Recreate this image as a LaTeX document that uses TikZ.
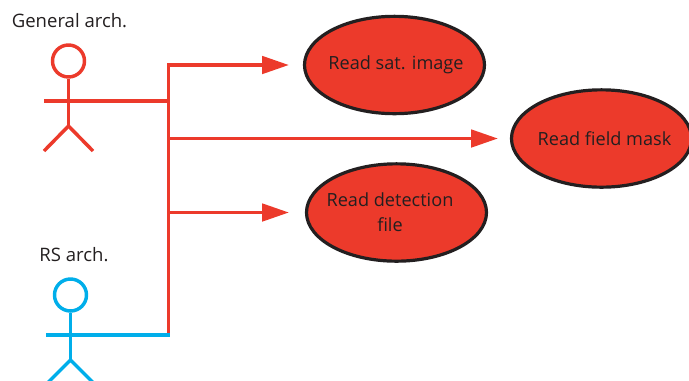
\documentclass[tikz,border=0pt]{standalone}
\usepackage{fontspec}
\setmainfont{Open Sans}
\usetikzlibrary{arrows.meta,shapes.geometric}
\definecolor{archred}{HTML}{EC3A2B}
\definecolor{archblue}{HTML}{00AEEA}
\definecolor{inkdark}{HTML}{231F20}
\tikzset{
    usecase/.style={ellipse, draw=inkdark, fill=archred, line width=2.4pt, inner sep=0pt,
        minimum width=135pt, minimum height=73pt},
    casetext/.style={text=inkdark, font=\fontsize{13.6}{18.5}\selectfont, align=center, inner sep=0pt},
    actortext/.style={text=inkdark, font=\fontsize{13.9}{15}\selectfont, inner sep=0pt},
    flow/.style={draw=archred, line width=2.6pt, -{Triangle[length=20pt, width=13pt]}, shorten >=10.5pt},
    redline/.style={draw=archred, line width=2.6pt},
    blueline/.style={draw=archblue, line width=2.6pt},
    head/.style={circle, line width=2.6pt, fill=white, inner sep=0pt, minimum size=24pt}
}
\begin{document}
\begin{tikzpicture}[x=0.75pt, y=-0.75pt]
    \clip (0,0) rectangle (689,380);
    % use cases
    \node[usecase] (sat) at (394.5, 65) {};
    \node[usecase] (field) at (601.5, 138.5) {};
    \node[usecase] (detection) at (396.5, 212.5) {};
    \node[casetext] (sattext) at (396, 64.5) {Read sat. image};
    \node[casetext] (fieldtext) at (604.5, 138.5) {Read field mask};
    \node[casetext] (detectiontext) at (390, 212) {Read detection\\file};
    % actors
    \node[actortext] (general) at (69.5, 21) {General arch.};
    \node[actortext] (rs) at (74, 255) {RS arch.};
    \node[head, draw=archred] (generalhead) at (68.5, 61) {};
    \node[head, draw=archblue] (rshead) at (70.5, 295) {};
    \coordinate (generalhip) at (68.5, 126);
    \coordinate (generalarm) at (44, 101);
    \coordinate (rship) at (70.5, 360);
    \coordinate (rsarm) at (46, 335);
    % trunk
    \coordinate (trunktop) at (168.5, 65);
    \coordinate (trunkgeneral) at (168.5, 101);
    \coordinate (trunkfield) at (168.5, 138.5);
    \coordinate (trunkdetection) at (168.5, 212.5);
    \coordinate (trunkrs) at (170, 335);
    \coordinate (trunkend) at (168.5, 335);
    % general arch. figure
    \draw[redline] (generalhead) -- (generalhip);
    \draw[redline] (44, 151) -- (generalhip) -- (93, 151);
    \draw[redline] (generalarm) -- (trunkgeneral);
    % lines to the use cases
    \draw[flow] (trunkend) -- (trunktop) -- (sat.west);
    \draw[flow, shorten >=9pt] (trunkfield) -- (field.west);
    \draw[flow, shorten >=12pt] (trunkdetection) -- (detection.west);
    % rs arch. figure
    \draw[blueline] (rshead) -- (rship);
    \draw[blueline] (46, 384.5) -- (rship) -- (95, 384.5);
    \draw[blueline] (rsarm) -- (trunkrs);
\end{tikzpicture}
\end{document}
